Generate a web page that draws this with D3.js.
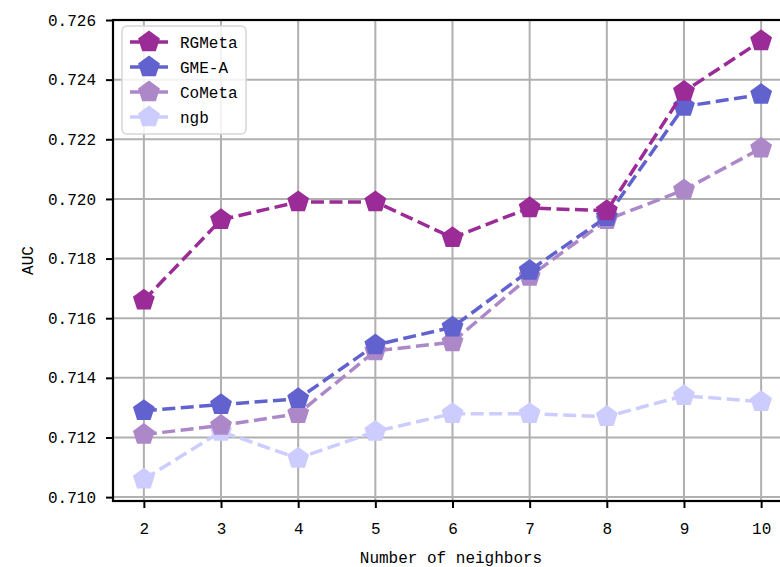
<!DOCTYPE html>
<html>
<head>
<meta charset="utf-8">
<script src="https://cdn.jsdelivr.net/npm/d3@7"></script>
<style>
  body { margin: 0; background: #fff; }
  text { font-family: "Liberation Mono", "DejaVu Sans Mono", monospace; }
</style>
</head>
<body>
<script>
// AUC vs number of neighbors

var width = 780;
var height = 567;

var neighbors = [2, 3, 4, 5, 6, 7, 8, 9, 10];
var yTicks = [0.710, 0.712, 0.714, 0.716, 0.718, 0.720, 0.722, 0.724, 0.726];

var rgmeta = [0.7166, 0.7193, 0.7199, 0.7199, 0.7187, 0.7197, 0.7196, 0.7236, 0.7253];
var gmea   = [0.7129, 0.7131, 0.7133, 0.7151, 0.7157, 0.7176, 0.7194, 0.7231, 0.7235];
var cometa = [0.7121, 0.7124, 0.7128, 0.7149, 0.7152, 0.7174, 0.7193, 0.7203, 0.7217];
var ngb    = [0.7106, 0.7122, 0.7113, 0.7122, 0.7128, 0.7128, 0.7127, 0.7134, 0.7132];

var seriesNames = ["RGMeta", "GME-A", "CoMeta", "ngb"];
var seriesValues = [rgmeta, gmea, cometa, ngb];
var colors = ["#9a2b97", "#6262cf", "#ad88c9", "#ccccff"];

var padLeft = 113, padRight = 792, padTop = 20, padBottom = 501;

var xScale = d3.scaleLinear()
  .domain([1.6, 10.4])
  .range([padLeft, padRight]);

var yScale = d3.scaleLinear()
  .domain([0.70987, 0.726])
  .range([padBottom, padTop]);

var svg = d3.select("body")
  .append("svg")
  .attr("width", width)
  .attr("height", height);

// grid
svg.append("g")
  .selectAll("line")
  .data(neighbors)
  .enter()
  .append("line")
  .attr("x1", function(d){ return xScale(d); })
  .attr("x2", function(d){ return xScale(d); })
  .attr("y1", padTop)
  .attr("y2", padBottom)
  .attr("stroke", "#b0b0b0")
  .attr("stroke-width", 2);

svg.append("g")
  .selectAll("line")
  .data(yTicks)
  .enter()
  .append("line")
  .attr("x1", padLeft)
  .attr("x2", padRight)
  .attr("y1", function(d){ return yScale(d); })
  .attr("y2", function(d){ return yScale(d); })
  .attr("stroke", "#b0b0b0")
  .attr("stroke-width", 2);

// pentagon path, point up
function pentagon(r) {
  var pts = [];
  for (var i = 0; i < 5; i++) {
    var a = -Math.PI / 2 + i * 2 * Math.PI / 5;
    pts.push([r * Math.cos(a), r * Math.sin(a)]);
  }
  return "M" + pts.join("L") + "Z";
}

var line = d3.line()
  .x(function(d, i){ return xScale(neighbors[i]); })
  .y(function(d){ return yScale(d); });

// draw back to front so RGMeta stays on top
for (var s = seriesValues.length - 1; s >= 0; s--) {
  var g = svg.append("g");
  g.append("path")
    .datum(seriesValues[s])
    .attr("d", line)
    .attr("fill", "none")
    .attr("stroke", colors[s])
    .attr("stroke-width", 3.5)
    .attr("stroke-dasharray", "13,5.5");
  g.selectAll(".mk")
    .data(seriesValues[s])
    .enter()
    .append("path")
    .attr("class", "mk")
    .attr("d", pentagon(11.5))
    .attr("transform", function(d, i){
      return "translate(" + xScale(neighbors[i]) + "," + yScale(d) + ")";
    })
    .attr("fill", colors[s]);
}

// axes
var xAxis = d3.axisBottom(xScale)
  .tickValues(neighbors)
  .tickSize(7)
  .tickPadding(15)
  .tickFormat(d3.format("d"));

var yAxis = d3.axisLeft(yScale)
  .tickValues(yTicks)
  .tickSize(7)
  .tickPadding(10)
  .tickFormat(d3.format(".3f"));

svg.append("g")
  .attr("transform", "translate(0," + padBottom + ")")
  .call(xAxis)
  .call(function(g){
    g.select(".domain").remove();
    g.selectAll("line").attr("stroke", "#000").attr("stroke-width", 2);
    g.selectAll("text").attr("font-size", 16).attr("fill", "#000")
      .attr("font-family", "Liberation Mono");
  });

svg.append("g")
  .attr("transform", "translate(" + padLeft + ",0)")
  .call(yAxis)
  .call(function(g){
    g.select(".domain").remove();
    g.selectAll("line").attr("stroke", "#000").attr("stroke-width", 2);
    g.selectAll("text").attr("font-size", 16).attr("fill", "#000")
      .attr("font-family", "Liberation Mono");
  });

// spines
svg.append("rect")
  .attr("x", padLeft)
  .attr("y", padTop)
  .attr("width", padRight - padLeft)
  .attr("height", padBottom - padTop)
  .attr("fill", "none")
  .attr("stroke", "#000")
  .attr("stroke-width", 2.2);

// labels
svg.append("text")
  .attr("x", 451)
  .attr("y", 563)
  .attr("text-anchor", "middle")
  .attr("font-size", 16)
  .text("Number of neighbors");

svg.append("text")
  .attr("transform", "translate(33," + ((padTop + padBottom) / 2) + ") rotate(-90)")
  .attr("text-anchor", "middle")
  .attr("font-size", 16)
  .text("AUC");

// legend
var legend = svg.append("g").attr("transform", "translate(122,26)");
legend.append("rect")
  .attr("width", 124)
  .attr("height", 108)
  .attr("rx", 5)
  .attr("fill", "#fff")
  .attr("fill-opacity", 0.85)
  .attr("stroke", "#d6d6d6")
  .attr("stroke-width", 1.5);

var items = legend.selectAll(".item")
  .data(seriesNames)
  .enter()
  .append("g")
  .attr("class", "item")
  .attr("transform", function(d, i){ return "translate(0," + (16 + i * 25) + ")"; });

items.append("line")
  .attr("x1", 8)
  .attr("x2", 46)
  .attr("stroke", function(d, i){ return colors[i]; })
  .attr("stroke-width", 3.5);

items.append("path")
  .attr("d", pentagon(11.5))
  .attr("transform", "translate(27,0)")
  .attr("fill", function(d, i){ return colors[i]; });

items.append("text")
  .attr("x", 58)
  .attr("y", 6)
  .attr("font-size", 16)
  .text(function(d){ return d; });
</script>
</body>
</html>
